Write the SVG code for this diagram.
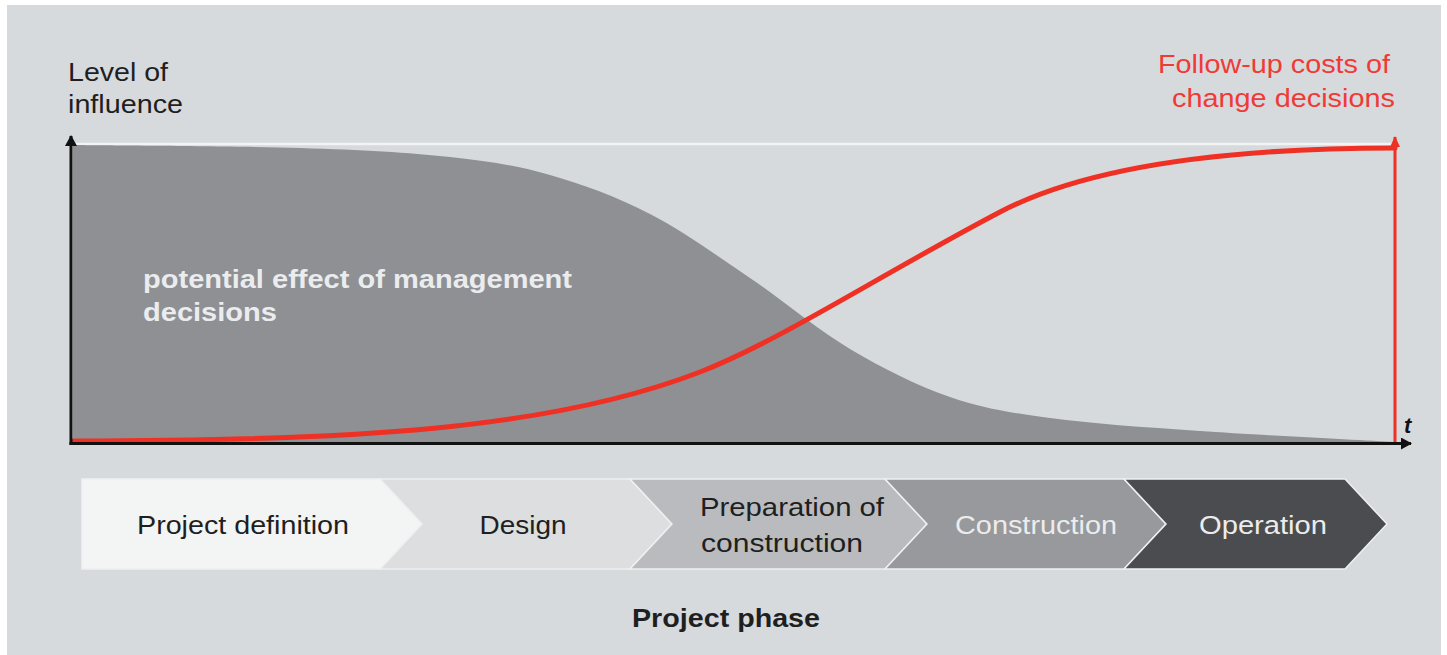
<svg xmlns="http://www.w3.org/2000/svg" width="1447" height="655" viewBox="0 0 1447 655">
<style>
.lbl{font-family:"Liberation Sans",Arial,sans-serif;font-size:25px;}
.dark{fill:#1f1f1f;}
.light{fill:#ececec;}
.red{fill:#ef3a36;}
.bold{font-weight:bold;}
.phase{stroke:#eef0f1;stroke-width:1.5;}
</style>
<defs>
<marker id="arrK" markerWidth="12" markerHeight="12" refX="10" refY="6" orient="auto" markerUnits="userSpaceOnUse">
<path d="M0,0 L11,6 L0,12 Z" fill="#111"/>
</marker>
<marker id="arrR" markerWidth="12" markerHeight="12" refX="10" refY="6" orient="auto" markerUnits="userSpaceOnUse">
<path d="M0,1 L11,6 L0,11 Z" fill="#ee3124"/>
</marker>
</defs>
<rect width="1447" height="655" fill="#ffffff"/>
<rect x="7" y="5" width="1434" height="650" fill="#d6dadd"/>

<g id="plot">
<line x1="72" y1="144" x2="1395" y2="144" stroke="#f1f3f4" stroke-width="2.5"/>
<path id="effect-area" d="M73,145 C110.8,145.5 237.2,146 300,148 C362.8,150 408.3,152.5 450,157 C491.7,161.5 516.7,165.5 550,175 C583.3,184.5 616.7,196.8 650,214 C683.3,231.2 716.7,255.5 750,278 C783.3,300.5 816.7,329.2 850,349 C883.3,368.8 916.7,385.5 950,397 C983.3,408.5 1008.3,412.3 1050,418 C1091.7,423.7 1142.5,427 1200,431 C1257.5,435 1362.5,440.2 1395,442 L1395,444 L73,444 Z" fill="#8f9094"/>
<text class="lbl bold" x="143" y="288" fill="#ebecee" textLength="429" lengthAdjust="spacingAndGlyphs">potential effect of management</text>
<text class="lbl bold" x="143" y="321" fill="#ebecee" textLength="134" lengthAdjust="spacingAndGlyphs">decisions</text>
</g>

<g id="connectors">
<path id="cost-curve" d="M73,441 C350,441 550,430 700,372 C780,341 880,275 1000,212 C1090,165 1230,148 1395,148" fill="none" stroke="#ee3124" stroke-width="5" stroke-linecap="round"/>
<line x1="1395" y1="444" x2="1395" y2="137" stroke="#ee3124" stroke-width="3" marker-end="url(#arrR)"/>
<line x1="71" y1="445" x2="71" y2="136" stroke="#111" stroke-width="3" marker-end="url(#arrK)"/>
<line x1="69.5" y1="443.5" x2="1411" y2="443.5" stroke="#111" stroke-width="3" marker-end="url(#arrK)"/>
</g>

<g id="axis-labels">
<text class="lbl dark" x="68" y="81" textLength="100" lengthAdjust="spacingAndGlyphs">Level of</text>
<text class="lbl dark" x="68" y="113" textLength="115" lengthAdjust="spacingAndGlyphs">influence</text>
<text class="lbl red" x="1390" y="73" text-anchor="end" textLength="232" lengthAdjust="spacingAndGlyphs">Follow-up costs of</text>
<text class="lbl red" x="1395" y="107" text-anchor="end" textLength="223" lengthAdjust="spacingAndGlyphs">change decisions</text>
<text x="1404" y="433" font-family="Liberation Sans, Arial, sans-serif" font-size="22" font-weight="bold" font-style="italic" fill="#111">t</text>
</g>

<g id="phase-project-definition">
<path class="phase" d="M82,479 L380,479 L422,524 L380,569 L82,569 Z" fill="#f3f4f4"/>
<text class="lbl dark" x="243" y="534" text-anchor="middle" textLength="212" lengthAdjust="spacingAndGlyphs">Project definition</text>
</g>
<g id="phase-design">
<path class="phase" d="M380,479 L630,479 L672,524 L630,569 L380,569 L422,524 Z" fill="#dcdee0"/>
<text class="lbl dark" x="523" y="534" text-anchor="middle" textLength="87" lengthAdjust="spacingAndGlyphs">Design</text>
</g>
<g id="phase-preparation">
<path class="phase" d="M630,479 L885,479 L927,524 L885,569 L630,569 L672,524 Z" fill="#b9bbbe"/>
<text class="lbl dark" x="792" y="516" text-anchor="middle" textLength="184" lengthAdjust="spacingAndGlyphs">Preparation of</text>
<text class="lbl dark" x="782" y="552" text-anchor="middle" textLength="162" lengthAdjust="spacingAndGlyphs">construction</text>
</g>
<g id="phase-construction">
<path class="phase" d="M885,479 L1124,479 L1166,524 L1124,569 L885,569 L927,524 Z" fill="#97999d"/>
<text class="lbl light" x="1036" y="534" text-anchor="middle" textLength="162" lengthAdjust="spacingAndGlyphs">Construction</text>
</g>
<g id="phase-operation">
<path class="phase" d="M1124,479 L1345,479 L1387,524 L1345,569 L1124,569 L1166,524 Z" fill="#4b4c4f"/>
<text class="lbl light" x="1263" y="534" text-anchor="middle" textLength="128" lengthAdjust="spacingAndGlyphs">Operation</text>
</g>

<g id="phase-axis-label">
<text class="lbl bold dark" x="726" y="627" text-anchor="middle" textLength="188" lengthAdjust="spacingAndGlyphs">Project phase</text>
</g>
</svg>
